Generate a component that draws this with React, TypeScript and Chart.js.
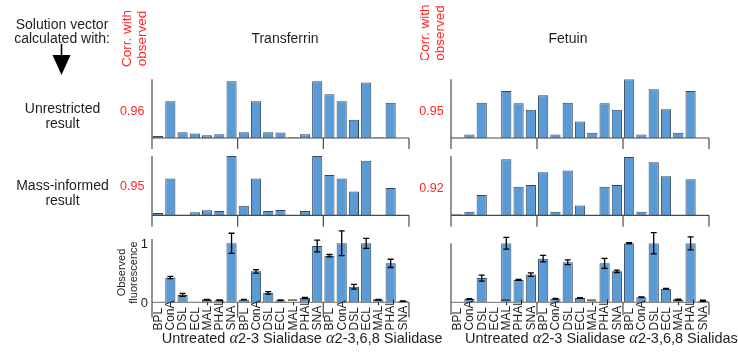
import React, { useEffect, useRef } from 'react';
import { Chart, registerables } from 'chart.js';
Chart.register(...registerables);

// ---------------- data ----------------
const LECTINS = ['BPL', 'ConA', 'DSL', 'ECL', 'MAL-I', 'PHAL', 'SNA'];
const TREATMENTS = ['Untreated', 'α2-3 Sialidase', 'α2-3,6,8 Sialidase'];
const CATEGORIES = TREATMENTS.flatMap((t) => LECTINS.map((l) => l));

const PROTEINS = ['Transferrin', 'Fetuin'];
const ROW_LABELS = [['Unrestricted', 'result'], ['Mass-informed', 'result']];

const transferrinUnrestricted = [0.035, 0.65, 0.1, 0.08, 0.05, 0.065, 1.0, 0.1, 0.65, 0.1, 0.095, 0.012, 0.065, 1.0, 0.77, 0.65, 0.32, 0.98, 0.012, 0.62, 0];
const transferrinMass = [0.04, 0.62, 0.01, 0.05, 0.085, 0.073, 1.0, 0.16, 0.62, 0.073, 0.09, 0, 0.073, 1.0, 0.68, 0.62, 0.4, 0.92, 0, 0.46, 0];
const transferrinObserved = [0, 0.42, 0.124, 0.01, 0.045, 0.034, 1.0, 0.045, 0.525, 0.16, 0.034, 0.006, 0.073, 0.955, 0.79, 1.0, 0.265, 1.0, 0.045, 0.66, 0.02];
const transferrinObservedErr = [0, 0.02, 0.025, 0, 0.006, 0.005, 0.17, 0.005, 0.03, 0.02, 0.005, 0, 0.01, 0.1, 0.02, 0.21, 0.04, 0.085, 0.005, 0.07, 0.005];

const fetuinUnrestricted = [0.01, 0.06, 0.6, 0, 0.8, 0.59, 0.48, 0.73, 0.06, 0.6, 0.28, 0.09, 0.59, 0.48, 1.0, 0.06, 0.83, 0.49, 0.09, 0.8, 0];
const fetuinMass = [0.017, 0.063, 0.35, 0, 0.96, 0.49, 0.52, 0.74, 0.063, 0.77, 0.17, 0, 0.49, 0.52, 1.0, 0.063, 0.91, 0.67, 0, 0.62, 0];
const fetuinObserved = [0, 0.056, 0.41, 0, 1.0, 0.38, 0.47, 0.74, 0.06, 0.68, 0.073, 0.017, 0.66, 0.525, 1.0, 0.085, 1.0, 0.23, 0.045, 1.0, 0.028];
const fetuinObservedErr = [0, 0.005, 0.05, 0, 0.1, 0.01, 0.03, 0.055, 0.005, 0.04, 0.005, 0, 0.085, 0.02, 0.01, 0.005, 0.18, 0.005, 0.01, 0.11, 0.01];

const CORR_TRANSFERRIN = ['0.96', '0.95'];
const CORR_FETUIN = ['0.95', '0.92'];
const Y_TICKS = [0, 1];

// ---------------- styles ----------------
const FONT = "'Liberation Sans', Arial, sans-serif";
const BAR_FILL = '#5B9BD5';
const BAR_EDGE = '#33485e';
const AXIS = '#4a4a4a';
const TEXT = '#1e1e1e';
const RED = '#ff2424';

type PanelProps = {
  values: number[];
  errors?: number[];
  xL: number;
  xR: number;
  axisTop: number;
  baseline: number;
  unit: number;
  sepBottom: number;
  yTicks?: boolean;
  lectinLabels?: boolean;
  labelBottom?: number;
  zeroColor?: string;
};

function Panel(p: PanelProps) {
  const ref = useRef<HTMLCanvasElement | null>(null);
  const padL = 18, padR = 6, padT = 16, padB = 28;
  const cLeft = Math.floor(p.xL) - padL;
  const cTop = Math.floor(p.axisTop) - padT;
  const cW = Math.ceil(p.xR) + padR - cLeft;
  const cH = Math.ceil(p.sepBottom) + padB - cTop;

  useEffect(() => {
    if (!ref.current) return;
    const yMax = (p.baseline - p.axisTop) / p.unit;
    const yMin = -(p.sepBottom - p.baseline) / p.unit;
    const axisPlugin = {
      id: 'axesAndExtras',
      afterDatasetsDraw(chart: any) {
        const ctx = chart.ctx as CanvasRenderingContext2D;
        const xs = chart.scales.x;
        const ys = chart.scales.y;
        const area = chart.chartArea;
        const y0 = ys.getPixelForValue(0);
        const xl = xs.getPixelForValue(-0.5);
        const xr = xs.getPixelForValue(CATEGORIES.length - 0.5);
        ctx.save();
        ctx.lineWidth = 1.2;
        // baseline
        ctx.strokeStyle = p.zeroColor || AXIS;
        ctx.beginPath();
        ctx.moveTo(xl, y0);
        ctx.lineTo(xr, y0);
        ctx.stroke();
        ctx.strokeStyle = AXIS;
        // y axis
        ctx.beginPath();
        ctx.moveTo(xl, area.top);
        ctx.lineTo(xl, area.bottom);
        ctx.stroke();
        // group separators
        for (let g = 1; g <= TREATMENTS.length; g++) {
          const xp = xs.getPixelForValue(g * LECTINS.length - 0.5);
          ctx.beginPath();
          ctx.moveTo(xp, y0);
          ctx.lineTo(xp, area.bottom);
          ctx.stroke();
        }
        // error bars
        if (p.errors) {
          ctx.strokeStyle = '#000';
          ctx.lineWidth = 1.3;
          p.errors.forEach((e, i) => {
            const v = p.values[i];
            if (!e || !v) return;
            const bx = xs.getPixelForValue(i);
            const t = ys.getPixelForValue(v + e);
            const b = ys.getPixelForValue(v - e);
            ctx.beginPath();
            ctx.moveTo(bx, t);
            ctx.lineTo(bx, b);
            ctx.moveTo(bx - 3, t);
            ctx.lineTo(bx + 3, t);
            ctx.moveTo(bx - 3, b);
            ctx.lineTo(bx + 3, b);
            ctx.stroke();
          });
        }
        // lectin labels
        if (p.lectinLabels) {
          ctx.fillStyle = TEXT;
          ctx.font = `12px ${FONT}`;
          ctx.textAlign = 'left';
          ctx.textBaseline = 'middle';
          const yb = (p.labelBottom ?? 330) - cTop;
          CATEGORIES.forEach((lab, i) => {
            const bx = xs.getPixelForValue(i);
            ctx.save();
            ctx.translate(bx + 0.5, yb);
            ctx.rotate(-Math.PI / 2);
            ctx.fillText(lab, 0, 0);
            ctx.restore();
          });
        }
        // y tick labels
        if (p.yTicks) {
          ctx.fillStyle = TEXT;
          ctx.font = `13px ${FONT}`;
          ctx.textAlign = 'right';
          ctx.textBaseline = 'middle';
          Y_TICKS.forEach((t) => {
            ctx.fillText(String(t), xl - 4, ys.getPixelForValue(t) + 1);
          });
        }
        ctx.restore();
      },
    };
    const chart = new Chart(ref.current, {
      type: 'bar',
      data: {
        labels: CATEGORIES,
        datasets: [
          {
            data: p.values.map((v) => (v === 0 ? null : v)),
            backgroundColor: BAR_FILL,
            borderColor: BAR_EDGE,
            borderWidth: 1,
            barPercentage: 0.83,
            categoryPercentage: 1,
          },
        ],
      },
      options: {
        responsive: false,
        animation: false,
        events: [],
        layout: {
          padding: {
            left: p.xL - cLeft,
            right: cLeft + cW - p.xR,
            top: p.axisTop - cTop,
            bottom: cTop + cH - p.sepBottom,
          },
        },
        plugins: { legend: { display: false }, tooltip: { enabled: false } },
        scales: {
          x: { display: false, offset: true },
          y: { display: false, min: yMin, max: yMax },
        },
      },
      plugins: [axisPlugin],
    } as any);
    return () => chart.destroy();
  }, []);

  return (
    <canvas
      ref={ref}
      width={cW}
      height={cH}
      style={{ position: 'absolute', left: cLeft, top: cTop, width: cW, height: cH }}
    />
  );
}

function GroupLabel({ x, y }: { x: number; y: number }) {
  const alpha = { fontFamily: "'Liberation Serif', 'DejaVu Serif', serif", fontStyle: 'italic' as const, fontSize: 16.5 };
  return (
    <text x={x} y={y} fontSize={14.5} fill={TEXT} fontFamily={FONT}>
      <tspan>{'Untreated '}</tspan>
      <tspan style={alpha}>α</tspan>
      <tspan>{'2-3 Sialidase '}</tspan>
      <tspan style={alpha}>α</tspan>
      <tspan>{'2-3,6,8 Sialidase'}</tspan>
    </text>
  );
}

export default function App() {
  const T = { xL: 152, xR: 409 };
  const F = { xL: 451, xR: 709 };
  return (
    <div style={{ position: 'fixed', left: 0, top: 0, width: 738, height: 352, background: '#fff', overflow: 'hidden' }}>
      {/* row 1 */}
      <Panel values={transferrinUnrestricted} {...T} axisTop={79.3} baseline={138} unit={56.7} sepBottom={149} />
      <Panel values={fetuinUnrestricted} {...F} axisTop={79.3} baseline={138} unit={58.7} sepBottom={149} />
      {/* row 2 */}
      <Panel values={transferrinMass} {...T} axisTop={156} baseline={215.3} unit={59.3} sepBottom={226.7} />
      <Panel values={fetuinMass} {...F} axisTop={156} baseline={215.3} unit={58.3} sepBottom={226.7} />
      {/* row 3 */}
      <Panel
        values={transferrinObserved}
        errors={transferrinObservedErr}
        {...T}
        axisTop={239}
        baseline={302.3}
        unit={59}
        sepBottom={317.5}
        yTicks
        lectinLabels
        labelBottom={330.5}
        zeroColor="#8a8a8a"
      />
      <Panel
        values={fetuinObserved}
        errors={fetuinObservedErr}
        {...F}
        axisTop={243.3}
        baseline={302.3}
        unit={59}
        sepBottom={315}
        lectinLabels
        labelBottom={330.5}
        zeroColor="#8a8a8a"
      />
      <svg
        width={738}
        height={352}
        style={{ position: 'absolute', left: 0, top: 0, pointerEvents: 'none' }}
        fontFamily={FONT}
      >
        <defs>
          <clipPath id="clipF">
            <rect x={400} y={0} width={60} height={60} />
          </clipPath>
        </defs>
        {/* header left */}
        <text x={62} y={29.3} fontSize={14} fill={TEXT} textAnchor="middle">Solution vector</text>
        <text x={62} y={42.7} fontSize={14} fill={TEXT} textAnchor="middle">calculated with:</text>
        <line x1={61.5} y1={44} x2={61.5} y2={56} stroke="#000" strokeWidth={1.6} />
        <polygon points="52.5,55 70.5,55 61.5,75" fill="#000" />
        {/* corr header */}
        <g transform="translate(0,38.5) rotate(-90)" fill={RED} fontSize={13.5}>
          <text x={0} y={130.5} textAnchor="middle">Corr. with</text>
          <text x={0} y={145.5} textAnchor="middle">observed</text>
        </g>
        <g clipPath="url(#clipF)">
          <g transform="translate(0,33) rotate(-90)" fill={RED} fontSize={13.5}>
            <text x={0} y={428.5} textAnchor="middle">Corr. with</text>
            <text x={0} y={443.5} textAnchor="middle">observed</text>
          </g>
        </g>
        {/* protein titles */}
        <text x={285} y={43.3} fontSize={14} fill={TEXT} textAnchor="middle">{PROTEINS[0]}</text>
        <text x={568} y={43.3} fontSize={14} fill={TEXT} textAnchor="middle">{PROTEINS[1]}</text>
        {/* row labels */}
        <text x={62.5} y={113} fontSize={14} fill={TEXT} textAnchor="middle">{ROW_LABELS[0][0]}</text>
        <text x={62.5} y={128} fontSize={14} fill={TEXT} textAnchor="middle">{ROW_LABELS[0][1]}</text>
        <text x={62.5} y={190} fontSize={14} fill={TEXT} textAnchor="middle">{ROW_LABELS[1][0]}</text>
        <text x={62.5} y={205} fontSize={14} fill={TEXT} textAnchor="middle">{ROW_LABELS[1][1]}</text>
        {/* correlations */}
        <text x={120} y={115} fontSize={12.5} fill={RED}>{CORR_TRANSFERRIN[0]}</text>
        <text x={120} y={189.5} fontSize={12.5} fill={RED}>{CORR_TRANSFERRIN[1]}</text>
        <text x={419.3} y={115} fontSize={12.5} fill={RED}>{CORR_FETUIN[0]}</text>
        <text x={419.3} y={192} fontSize={12.5} fill={RED}>{CORR_FETUIN[1]}</text>
        {/* observed fluorescence */}
        <g transform="translate(0,272.5) rotate(-90)" fill={TEXT} fontSize={11}>
          <text x={0} y={124.5} textAnchor="middle">Observed</text>
          <text x={0} y={136.5} textAnchor="middle">fluorescence</text>
        </g>
        {/* group labels */}
        <GroupLabel x={161.7} y={343.3} />
        <GroupLabel x={465} y={343.3} />
      </svg>
    </div>
  );
}
